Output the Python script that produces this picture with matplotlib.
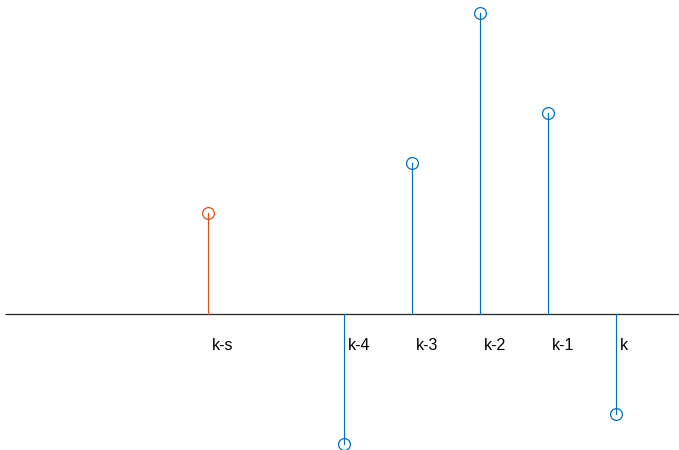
import numpy as np
import matplotlib
matplotlib.use('Agg')
import matplotlib.pyplot as plt

# sample positions and values
labels = ['k-s', 'k-4', 'k-3', 'k-2', 'k-1', 'k']
pos = [1, 3, 4, 5, 6, 7]
vals = [2.0, -2.6, 3.0, 6.0, 4.0, -2.0]
colors = ['#D95319', '#0072BD', '#0072BD', '#0072BD', '#0072BD', '#0072BD']

fig = plt.figure(figsize=(6.79, 4.5), dpi=100)
ax = fig.add_axes([0, 0, 1, 1])
ax.set_xlim(-2.059, 7.926)
ax.set_ylim(-2.72, 6.26)
ax.axis('off')

# baseline
ax.plot([-1.985, 7.926], [0, 0], color='#262626', lw=0.9, solid_capstyle='butt')

for x, v, c in zip(pos, vals, colors):
    ax.plot([x, x], [0, v], color=c, lw=0.85)
    ax.plot([x], [v], 'o', mfc='none', mec=c, ms=8.5, mew=0.9)

for x, lab in zip(pos, labels):
    ax.text(x + 0.06, -0.64, lab, ha='left', va='center', fontsize=11.5,
            family='Liberation Sans', color='#000000')

fig.savefig('out.png', dpi=100)
